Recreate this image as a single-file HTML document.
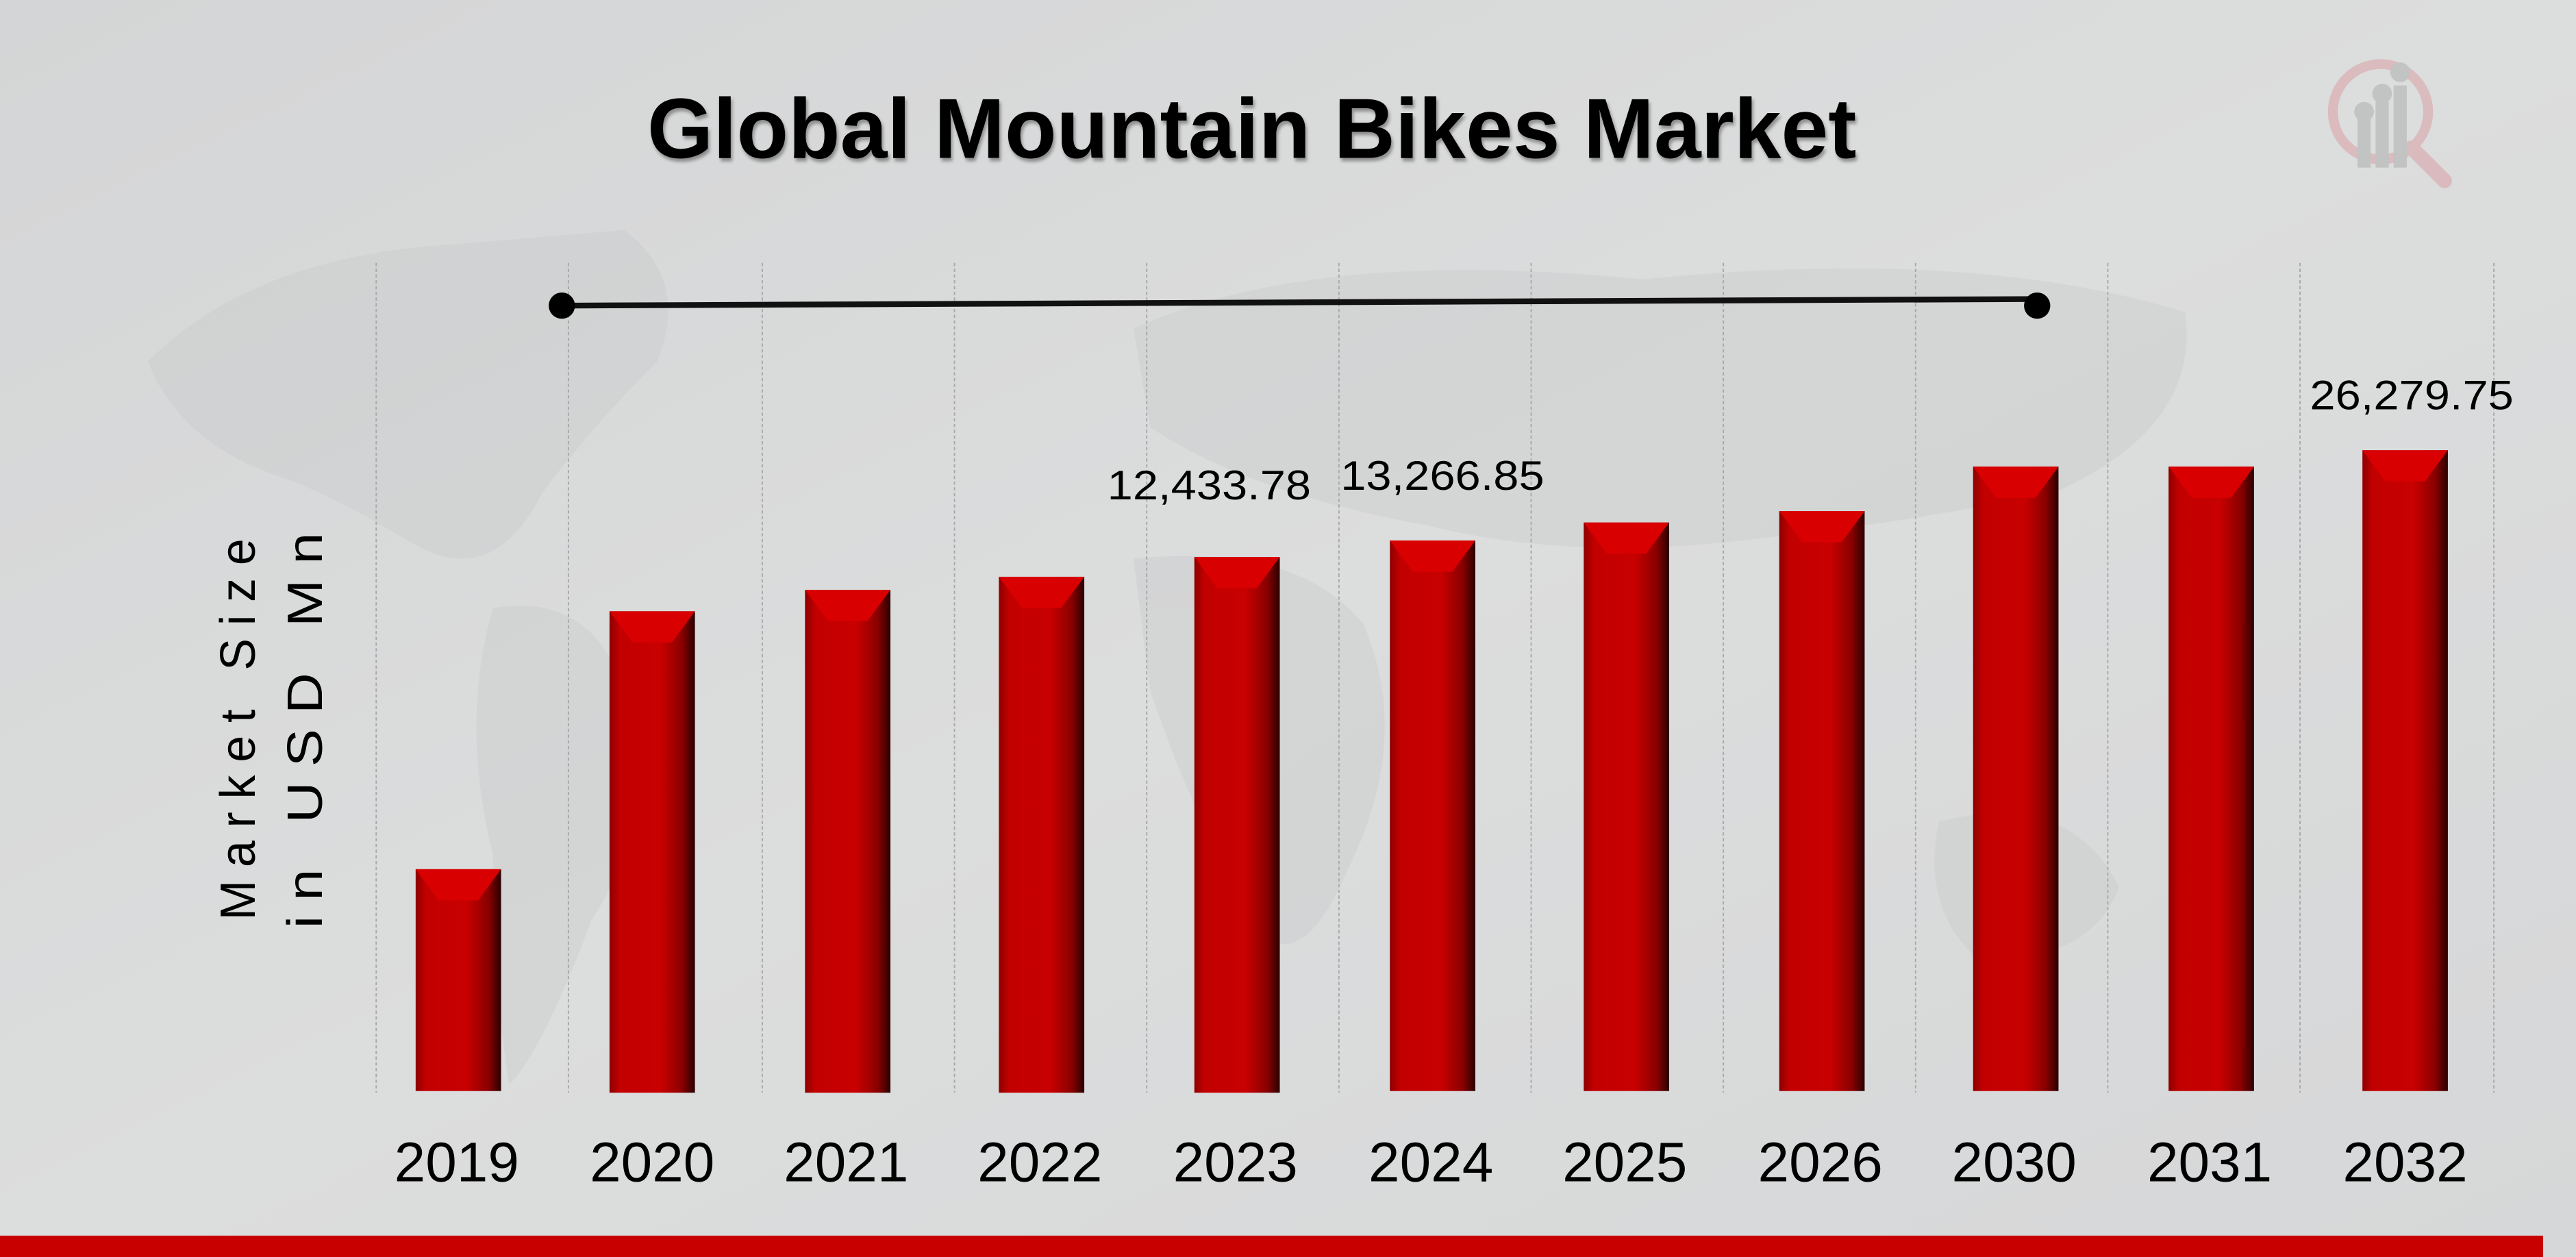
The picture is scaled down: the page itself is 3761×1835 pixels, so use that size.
<!DOCTYPE html>
<html><head><meta charset="utf-8"><style>
html,body{margin:0;padding:0;background:#d8d9da;}
svg{display:block;}
text{font-family:"Liberation Sans",sans-serif;fill:#000;}
</style></head><body>
<svg width="3761" height="1835" viewBox="0 0 1568 765" preserveAspectRatio="none" xmlns="http://www.w3.org/2000/svg">
<defs>
<linearGradient id="bg" x1="0" y1="0" x2="1" y2="1">
<stop offset="0" stop-color="#d4d5d6"/><stop offset="0.5" stop-color="#dcdddd"/><stop offset="1" stop-color="#d6d7d8"/>
</linearGradient>
<linearGradient id="bar" x1="0" y1="0" x2="1" y2="0">
<stop offset="0" stop-color="#8e0000"/><stop offset="0.12" stop-color="#c20000"/><stop offset="0.6" stop-color="#c80000"/><stop offset="0.85" stop-color="#8a0000"/><stop offset="1" stop-color="#2a0000"/>
</linearGradient>
</defs>
<rect width="1568" height="765" fill="url(#bg)"/>
<g fill="#c9cacb" opacity="0.4">
<path d="M90 220 Q150 160 260 150 L380 140 Q420 170 400 220 Q360 260 330 300 Q300 360 250 330 Q200 300 170 290 Q110 270 90 220Z"/>
<path d="M300 370 Q360 360 380 420 Q400 500 360 560 Q330 640 310 660 Q300 600 300 520 Q280 440 300 370Z"/>
<path d="M690 200 Q800 150 1000 170 Q1200 150 1330 190 Q1340 260 1250 300 Q1150 320 1050 330 Q950 340 870 320 Q760 300 700 260Z"/>
<path d="M690 340 Q790 330 830 380 Q860 450 820 530 Q790 600 760 560 Q720 480 700 420Z"/>
<path d="M1180 500 Q1260 480 1290 540 Q1270 590 1200 580 Q1170 550 1180 500Z"/>
</g>
<g stroke="#a8a9aa" stroke-width="0.8" stroke-dasharray="2,1.5">
<line x1="229" y1="160" x2="229" y2="665"/><line x1="346" y1="160" x2="346" y2="665"/>
<line x1="464" y1="160" x2="464" y2="665"/><line x1="581" y1="160" x2="581" y2="665"/>
<line x1="698" y1="160" x2="698" y2="665"/><line x1="815" y1="160" x2="815" y2="665"/>
<line x1="932" y1="160" x2="932" y2="665"/><line x1="1049" y1="160" x2="1049" y2="665"/>
<line x1="1166" y1="160" x2="1166" y2="665"/><line x1="1283" y1="160" x2="1283" y2="665"/>
<line x1="1400" y1="160" x2="1400" y2="665"/><line x1="1518" y1="160" x2="1518" y2="665"/>
</g>
<g opacity="0.5">
<circle cx="1449" cy="68" r="29" fill="none" stroke="#d99aa0" stroke-width="6"/>
<line x1="1468" y1="90" x2="1488" y2="110" stroke="#d99aa0" stroke-width="9" stroke-linecap="round"/>
<rect x="1435" y="72" width="8" height="30" fill="#aaa"/><rect x="1446" y="62" width="8" height="40" fill="#aaa"/><rect x="1457" y="52" width="8" height="50" fill="#aaa"/>
<circle cx="1439" cy="68" r="6" fill="#aaa"/><circle cx="1450" cy="57" r="6" fill="#aaa"/><circle cx="1461" cy="44" r="6" fill="#aaa"/>
</g>
<text x="762" y="96" font-size="52" font-weight="bold" text-anchor="middle" textLength="736" lengthAdjust="spacingAndGlyphs" style="filter:drop-shadow(1px 2px 1px rgba(0,0,0,0.35))">Global Mountain Bikes Market</text>
<line x1="342" y1="186" x2="1240" y2="182" stroke="#111" stroke-width="3.5"/>
<circle cx="342" cy="186" r="8" fill="#000"/><circle cx="1240" cy="186" r="8" fill="#000"/>
<g transform="translate(155,440) rotate(-90)"><text x="0" y="0" font-size="30" text-anchor="middle" letter-spacing="8" textLength="240" lengthAdjust="spacingAndGlyphs">Market Size</text></g>
<g transform="translate(196,440) rotate(-90)"><text x="0" y="0" font-size="30" text-anchor="middle" letter-spacing="8" textLength="250" lengthAdjust="spacingAndGlyphs">in USD Mn</text></g>
<g>
<g><rect x="253" y="529" width="52" height="135" fill="url(#bar)"/><path d="M253 529 H305 L291 548 H267Z" fill="#d80000"/></g>
<g><rect x="371" y="372" width="52" height="293" fill="url(#bar)"/><path d="M371 372 H423 L409 391 H385Z" fill="#d80000"/></g>
<g><rect x="490" y="359" width="52" height="306" fill="url(#bar)"/><path d="M490 359 H542 L528 378 H504Z" fill="#d80000"/></g>
<g><rect x="608" y="351" width="52" height="314" fill="url(#bar)"/><path d="M608 351 H660 L646 370 H622Z" fill="#d80000"/></g>
<g><rect x="727" y="339" width="52" height="326" fill="url(#bar)"/><path d="M727 339 H779 L765 358 H741Z" fill="#d80000"/></g>
<g><rect x="846" y="329" width="52" height="335" fill="url(#bar)"/><path d="M846 329 H898 L884 348 H860Z" fill="#d80000"/></g>
<g><rect x="964" y="318" width="52" height="346" fill="url(#bar)"/><path d="M964 318 H1016 L1002 337 H978Z" fill="#d80000"/></g>
<g><rect x="1083" y="311" width="52" height="353" fill="url(#bar)"/><path d="M1083 311 H1135 L1121 330 H1097Z" fill="#d80000"/></g>
<g><rect x="1201" y="284" width="52" height="380" fill="url(#bar)"/><path d="M1201 284 H1253 L1239 303 H1215Z" fill="#d80000"/></g>
<g><rect x="1320" y="284" width="52" height="380" fill="url(#bar)"/><path d="M1320 284 H1372 L1358 303 H1334Z" fill="#d80000"/></g>
<g><rect x="1438" y="274" width="52" height="390" fill="url(#bar)"/><path d="M1438 274 H1490 L1476 293 H1452Z" fill="#d80000"/></g>
</g>
<text x="736" y="304" font-size="25" text-anchor="middle" textLength="124" lengthAdjust="spacingAndGlyphs">12,433.78</text>
<text x="878" y="298" font-size="25" text-anchor="middle" textLength="124" lengthAdjust="spacingAndGlyphs">13,266.85</text>
<text x="1468" y="249" font-size="25" text-anchor="middle" textLength="124" lengthAdjust="spacingAndGlyphs">26,279.75</text>
<g font-size="34" text-anchor="middle">
<text x="278" y="719" textLength="76" lengthAdjust="spacingAndGlyphs">2019</text>
<text x="397" y="719" textLength="76" lengthAdjust="spacingAndGlyphs">2020</text>
<text x="515" y="719" textLength="76" lengthAdjust="spacingAndGlyphs">2021</text>
<text x="633" y="719" textLength="76" lengthAdjust="spacingAndGlyphs">2022</text>
<text x="752" y="719" textLength="76" lengthAdjust="spacingAndGlyphs">2023</text>
<text x="871" y="719" textLength="76" lengthAdjust="spacingAndGlyphs">2024</text>
<text x="989" y="719" textLength="76" lengthAdjust="spacingAndGlyphs">2025</text>
<text x="1108" y="719" textLength="76" lengthAdjust="spacingAndGlyphs">2026</text>
<text x="1226" y="719" textLength="76" lengthAdjust="spacingAndGlyphs">2030</text>
<text x="1345" y="719" textLength="76" lengthAdjust="spacingAndGlyphs">2031</text>
<text x="1464" y="719" textLength="76" lengthAdjust="spacingAndGlyphs">2032</text>
</g>
<rect x="0" y="752" width="1548" height="13" fill="#c80000"/>
</svg>
</body></html>
